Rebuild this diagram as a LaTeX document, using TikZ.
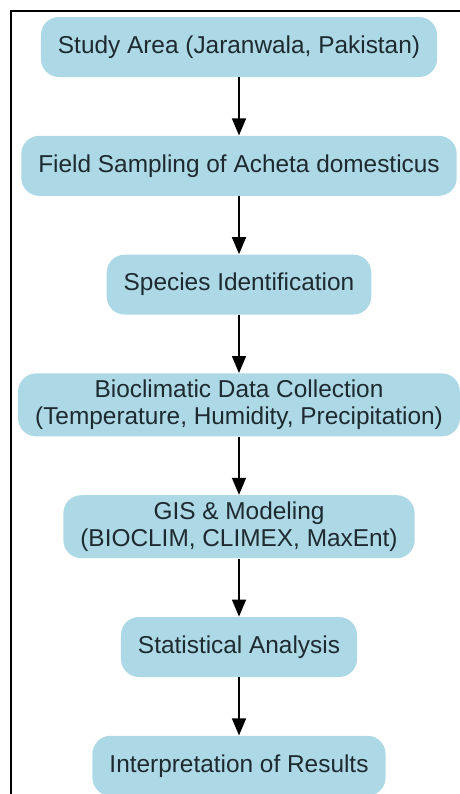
\documentclass[tikz,border=0pt]{standalone}
\usepackage{fontspec}
\setmainfont{Liberation Sans}
\usepackage{tikz}
\usetikzlibrary{positioning, arrows.meta}
\definecolor{boxblue}{HTML}{ADD8E6}
\definecolor{boxtext}{HTML}{1E2A30}
\tikzstyle{stepbox} = [rectangle, rounded corners=9pt, fill=boxblue, text=boxtext, align=center, minimum height=30pt, inner xsep=8.5pt, inner ysep=3pt, font=\fontsize{12.2}{13.5}\selectfont]
\tikzstyle{arrow} = [line width=0.75pt, -{Triangle[width=7pt,length=8.5pt]}]

\begin{document}
\begin{tikzpicture}[x=0.5pt, y=-0.5pt, node distance=29pt]
    \useasboundingbox (0,0) rectangle (460,794);
    % frame
    \draw[line width=1pt] (10.5,794) -- (10.5,10.5) -- (460,10.5);

    \node[stepbox] (area) at (239,47) {Study Area (Jaranwala, Pakistan)};
    \node[stepbox, below=of area] (sampling) {Field Sampling of Acheta domesticus};
    \node[stepbox, below=of sampling] (ident) {Species Identification};
    \node[stepbox, minimum height=31.5pt, below=of ident] (bioclim) {Bioclimatic Data Collection\\(Temperature, Humidity, Precipitation)};
    \node[stepbox, minimum height=31.5pt, below=of bioclim] (gis) {GIS \& Modeling\\(BIOCLIM, CLIMEX, MaxEnt)};
    \node[stepbox, below=of gis] (stats) {Statistical Analysis};
    \node[stepbox, below=of stats] (results) {Interpretation of Results};

    \foreach \a/\b in {area/sampling, sampling/ident, ident/bioclim, bioclim/gis, gis/stats, stats/results} {
        \draw[arrow] (\a) -- (\b);
    }
\end{tikzpicture}
\end{document}
